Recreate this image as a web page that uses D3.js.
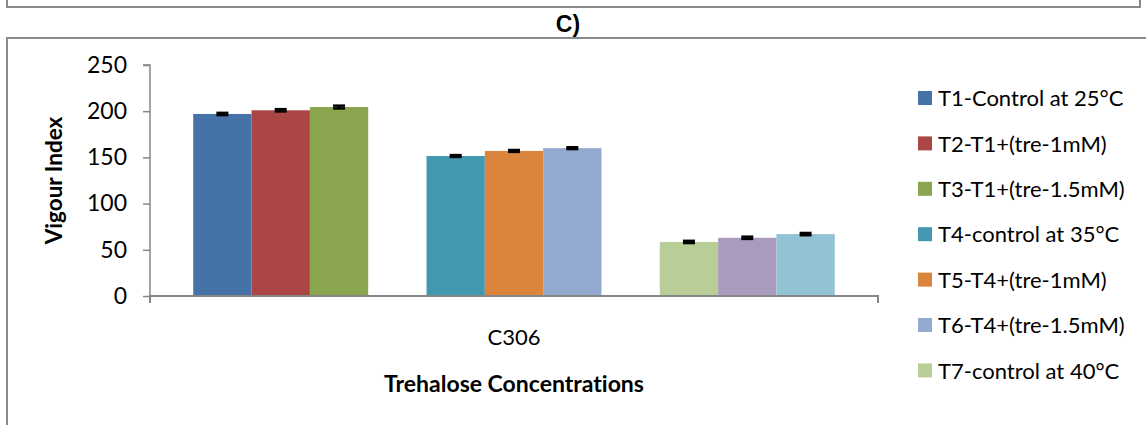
<!DOCTYPE html>
<html>
<head>
<meta charset="utf-8">
<script src="https://cdn.jsdelivr.net/npm/d3@7"></script>
<style>
  html, body { margin: 0; padding: 0; background: #fff; }
  svg { display: block; }
  text { font-variant-ligatures: none; font-feature-settings: "liga" 0, "clig" 0; }
</style>
</head>
<body>
<svg id="chart" width="1146" height="425"></svg>
<script>
// ---- data ----
const categories = ["C306"];
const seriesNames = [
  "T1-Control at 25°C",
  "T2-T1+(tre-1mM)",
  "T3-T1+(tre-1.5mM)",
  "T4-control at 35°C",
  "T5-T4+(tre-1mM)",
  "T6-T4+(tre-1.5mM)",
  "T7-control at 40°C",
  "T8-T7+(tre-1mM)",
  "T9-T7+(tre-1.5mM)"
];
const seriesValues = [197, 201, 204.5, 151.5, 157, 160, 58.5, 63, 67];
const seriesErrors = [1.2, 1.2, 1.5, 1.0, 1.0, 1.0, 1.2, 1.2, 1.2];
const seriesColors = ["#4572A7", "#AA4643", "#89A54E", "#4198AF", "#DB843D", "#93A9CF", "#B9CD96", "#A99BBD", "#92C3D4"];
const yTicks = [0, 50, 100, 150, 200, 250];
const legendShown = 7;
const yTitle = "Vigour Index";
const xTitle = "Trehalose Concentrations";
const panelTitle = "C)";

// ---- layout ----
const svg = d3.select("#chart");
const plot = { left: 150, right: 878, top: 65, bottom: 296 };
const frameColor = "#8a8a8a";
const axisColor = "#868686";
const font = "Lato, 'Open Sans', sans-serif";

// frames
svg.append("path")
  .attr("d", "M7,0 V7 H1140 V0")
  .attr("fill", "none").attr("stroke", frameColor).attr("stroke-width", 2);
svg.append("path")
  .attr("d", "M7,425 V38 H1146")
  .attr("fill", "none").attr("stroke", frameColor).attr("stroke-width", 2);

svg.append("text")
  .attr("x", 568).attr("y", 32)
  .attr("text-anchor", "middle")
  .attr("font-family", "'Liberation Sans', Arial, sans-serif")
  .attr("font-weight", "bold").attr("font-size", 23)
  .text(panelTitle);

// scales
const x0 = d3.scaleBand().domain(categories)
  .range([plot.left, plot.right]).paddingInner(0).paddingOuter(0.0674);
// 9 series laid out in 11 slots (a blank slot after each group of three)
const slotOf = i => i + Math.floor(i / 3);
const x1 = d3.scaleBand().domain(d3.range(11)).range([0, x0.bandwidth()]);
const y = d3.scaleLinear().domain([0, 250]).range([plot.bottom, plot.top]);

// y axis
const yAxis = svg.append("g")
  .attr("transform", `translate(${plot.left},0)`)
  .call(d3.axisLeft(y).tickValues(yTicks).tickSize(7).tickPadding(16).tickFormat(d3.format("d")));
yAxis.select(".domain").attr("stroke", axisColor).attr("stroke-width", 1.5)
  .attr("d", `M-7,${plot.top}H0V${plot.bottom + 7}`);
yAxis.selectAll(".tick line").attr("stroke", axisColor).attr("stroke-width", 1.5);
yAxis.selectAll(".tick text").attr("font-family", font).attr("font-size", 23).attr("fill", "#000");

// bars
const bars = svg.append("g");
seriesValues.forEach((v, i) => {
  const cat = categories[0];
  const bx = x0(cat) + x1(slotOf(i));
  bars.append("rect")
    .attr("x", bx).attr("y", y(v))
    .attr("width", x1.bandwidth()).attr("height", y(0) - y(v))
    .attr("fill", seriesColors[i]);
});

// x axis
const xAxis = svg.append("g")
  .attr("transform", `translate(0,${plot.bottom})`)
  .call(d3.axisBottom(x0).tickSize(0).tickPadding(33));
xAxis.select(".domain").attr("stroke", axisColor).attr("stroke-width", 2)
  .attr("d", `M${plot.left},7V0H${plot.right}V7`);
xAxis.selectAll(".tick text").attr("font-family", font).attr("font-size", 22).attr("fill", "#000");

// error bars
const eb = svg.append("g").attr("stroke", "#000").attr("stroke-width", 2.5);
seriesValues.forEach((v, i) => {
  const cx = x0(categories[0]) + x1(slotOf(i)) + x1.bandwidth() / 2;
  const e = seriesErrors[i];
  eb.append("line").attr("x1", cx).attr("x2", cx).attr("y1", y(v - e)).attr("y2", y(v + e));
  eb.append("line").attr("x1", cx - 6).attr("x2", cx + 6).attr("y1", y(v + e)).attr("y2", y(v + e));
  eb.append("line").attr("x1", cx - 6).attr("x2", cx + 6).attr("y1", y(v - e)).attr("y2", y(v - e));
});

// axis titles
svg.append("text")
  .attr("transform", `translate(62,${(plot.top + plot.bottom) / 2}) rotate(-90)`)
  .attr("text-anchor", "middle")
  .attr("font-family", font).attr("font-weight", "bold").attr("font-size", 22.5)
  .text(yTitle);
svg.append("text")
  .attr("x", (plot.left + plot.right) / 2).attr("y", 392)
  .attr("text-anchor", "middle")
  .attr("font-family", font).attr("font-weight", "bold").attr("font-size", 23)
  .text(xTitle);

// legend
const legend = svg.append("g");
seriesNames.slice(0, legendShown).forEach((name, i) => {
  const cy = 98 + i * 45.4;
  legend.append("rect").attr("x", 918).attr("y", cy - 7).attr("width", 14).attr("height", 14)
    .attr("fill", seriesColors[i]);
  legend.append("text").attr("x", 938).attr("y", cy).attr("dy", "0.37em")
    .attr("font-family", font).attr("font-size", 22).attr("fill", "#000")
    .text(name);
});
</script>
</body>
</html>
